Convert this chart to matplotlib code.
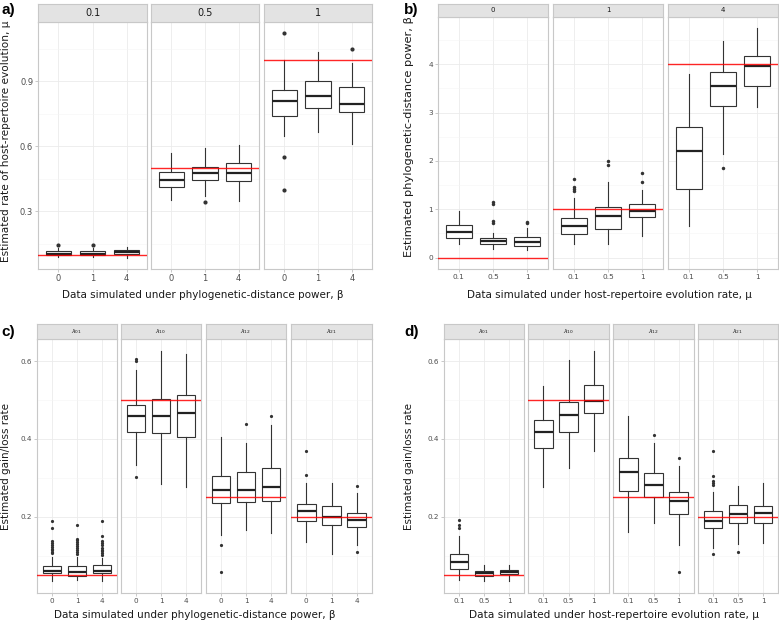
import matplotlib
matplotlib.use("Agg")
import matplotlib.pyplot as plt
import numpy as np

# ---- panel a: estimated mu, facets = true mu, groups = true beta ----
a_facets = ["0.1", "0.5", "1"]
a_groups = ["0", "1", "4"]
a_true = [0.1, 0.5, 1.0]
a_med = [[0.103, 0.103, 0.110], [0.442, 0.475, 0.475], [0.808, 0.832, 0.795]]
a_q1 = [[0.096, 0.096, 0.103], [0.412, 0.442, 0.440], [0.738, 0.775, 0.757]]
a_q3 = [[0.114, 0.114, 0.123], [0.483, 0.503, 0.523], [0.860, 0.902, 0.874]]
a_lo = [[0.088, 0.088, 0.085], [0.354, 0.372, 0.349], [0.649, 0.665, 0.611]]
a_hi = [[0.131, 0.131, 0.137], [0.568, 0.592, 0.608], [0.998, 1.034, 0.985]]
a_out = [[[0.146], [0.146], []],
         [[], [0.342], []],
         [[1.122, 0.551, 0.400], [], [1.049]]]

# ---- panel b: estimated beta, facets = true beta, groups = true mu ----
b_facets = ["0", "1", "4"]
b_groups = ["0.1", "0.5", "1"]
b_true = [0.0, 1.0, 4.0]
b_med = [[0.52, 0.35, 0.33], [0.66, 0.86, 0.96], [2.20, 3.54, 3.96]]
b_q1 = [[0.40, 0.27, 0.23], [0.49, 0.60, 0.84], [1.41, 3.14, 3.55]]
b_q3 = [[0.67, 0.41, 0.43], [0.82, 1.04, 1.10], [2.71, 3.84, 4.16]]
b_lo = [[0.28, 0.18, 0.16], [0.28, 0.27, 0.44], [0.66, 2.14, 3.11]]
b_hi = [[0.97, 0.51, 0.62], [1.24, 1.56, 1.39], [3.79, 4.49, 4.74]]
b_out = [[[], [1.15, 1.10, 0.76, 0.72], [0.73, 0.71]],
         [[1.63, 1.46, 1.42, 1.38], [2.00, 1.91], [1.74, 1.57]],
         [[], [1.86], []]]

# ---- panel c: gain/loss rates vs true beta ----
rate_facets = [r"$\lambda_{01}$", r"$\lambda_{10}$", r"$\lambda_{12}$", r"$\lambda_{21}$"]
rate_true = [0.05, 0.5, 0.25, 0.2]
c_groups = ["0", "1", "4"]
c_med = [[0.061, 0.058, 0.062], [0.458, 0.460, 0.467], [0.269, 0.269, 0.277], [0.214, 0.200, 0.193]]
c_q1 = [[0.055, 0.049, 0.056], [0.418, 0.415, 0.405], [0.236, 0.237, 0.241], [0.189, 0.178, 0.173]]
c_q3 = [[0.073, 0.073, 0.075], [0.486, 0.503, 0.512], [0.306, 0.316, 0.326], [0.234, 0.228, 0.211]]
c_lo = [[0.034, 0.039, 0.036], [0.333, 0.284, 0.277], [0.153, 0.166, 0.159], [0.135, 0.105, 0.127]]
c_hi = [[0.097, 0.098, 0.095], [0.578, 0.627, 0.619], [0.405, 0.389, 0.436], [0.286, 0.288, 0.260]]
c_out = [[[0.189, 0.171, 0.139, 0.132, 0.127, 0.122, 0.118, 0.114, 0.110, 0.106],
          [0.178, 0.144, 0.140, 0.135, 0.130, 0.125, 0.120, 0.115, 0.110, 0.105],
          [0.190, 0.150, 0.139, 0.133, 0.127, 0.121, 0.116, 0.111, 0.106, 0.102]],
         [[0.605, 0.601, 0.303], [], []],
         [[0.127, 0.058], [0.438], [0.458]],
         [[0.369, 0.307], [], [0.280, 0.109]]]

# ---- panel d: gain/loss rates vs true mu ----
d_groups = ["0.1", "0.5", "1"]
d_med = [[0.084, 0.055, 0.058], [0.417, 0.462, 0.497], [0.314, 0.281, 0.241], [0.190, 0.207, 0.210]]
d_q1 = [[0.067, 0.048, 0.052], [0.376, 0.417, 0.467], [0.266, 0.250, 0.208], [0.172, 0.185, 0.185]]
d_q3 = [[0.105, 0.062, 0.063], [0.449, 0.495, 0.538], [0.350, 0.312, 0.263], [0.215, 0.230, 0.228]]
d_lo = [[0.038, 0.034, 0.034], [0.277, 0.326, 0.368], [0.161, 0.185, 0.127], [0.121, 0.131, 0.133]]
d_hi = [[0.150, 0.075, 0.076], [0.537, 0.602, 0.627], [0.458, 0.389, 0.330], [0.265, 0.279, 0.286]]
d_out = [[[0.191, 0.180, 0.172], [], []],
         [[], [], []],
         [[], [0.409], [0.350, 0.059]],
         [[0.369, 0.306, 0.291, 0.286, 0.281, 0.105], [0.110], []]]

W, H = 779, 622
fig = plt.figure(figsize=(W / 100, H / 100), dpi=100)
plt.rcParams['font.family'] = ['DejaVu Sans']

DARK = '#333333'
BORDER = '#c8c8c8'


def px_axes(x0, y0, x1, y1):
    # pixel box (top-left origin) -> figure axes
    return fig.add_axes([x0 / W, 1 - y1 / H, (x1 - x0) / W, (y1 - y0) / H])


def draw_panel(facet_x, top, bottom, strip_h, facets, groups, true_vals,
               med, q1, q3, lo, hi, out, yticks, yminor,
               tick_fs, strip_fs, ms):
    vals = [v for row in lo for v in row] + [v for row in hi for v in row] + list(true_vals)
    vals += [v for f in out for g in f for v in g]
    ymin, ymax = min(vals), max(vals)
    pad = 0.05 * (ymax - ymin)
    for k, (x0, x1) in enumerate(facet_x):
        ax = px_axes(x0, top, x1, bottom)
        stats = []
        for i in range(len(groups)):
            stats.append(dict(med=med[k][i], q1=q1[k][i], q3=q3[k][i],
                              whislo=lo[k][i], whishi=hi[k][i], fliers=out[k][i]))
        ax.bxp(stats, positions=[1, 2, 3], widths=0.75, patch_artist=True,
               showcaps=False,
               boxprops=dict(facecolor='white', edgecolor=DARK, linewidth=0.8),
               medianprops=dict(color='#222222', linewidth=1.6),
               whiskerprops=dict(color=DARK, linewidth=0.8),
               flierprops=dict(marker='o', markersize=ms, markerfacecolor=DARK,
                               markeredgecolor='none'))
        ax.axhline(true_vals[k], color='red', lw=1.0, alpha=0.85, zorder=5)
        ax.set_xlim(0.4, 3.6)
        ax.set_ylim(ymin - pad, ymax + pad)
        ax.set_xticks([1, 2, 3])
        ax.set_xticklabels(groups)
        ax.set_yticks(yticks)
        ax.set_yticks(yminor, minor=True)
        ax.set_yticklabels([f"{t:g}" for t in yticks])
        ax.grid(True, which='major', color='#ebebeb', lw=0.6)
        ax.grid(True, which='minor', axis='y', color='#f5f5f5', lw=0.4)
        ax.set_axisbelow(True)
        ax.tick_params(which='major', length=2, width=0.5, color='#b3b3b3',
                       labelsize=tick_fs, labelcolor='#4d4d4d', pad=1.5)
        ax.tick_params(which='minor', length=0)
        if k > 0:
            ax.tick_params(axis='y', left=False, labelleft=False)
        for s in ax.spines.values():
            s.set_color(BORDER)
            s.set_linewidth(0.8)
        sax = px_axes(x0, top - strip_h, x1, top)
        sax.set_facecolor('#e3e3e3')
        sax.set_xticks([])
        sax.set_yticks([])
        for s in sax.spines.values():
            s.set_color(BORDER)
            s.set_linewidth(0.8)
        sax.text(0.5, 0.5, facets[k], ha='center', va='center',
                 fontsize=strip_fs, color='#1a1a1a', transform=sax.transAxes)


draw_panel([(38, 147), (151, 259), (264, 372)], 22, 269, 18,
           a_facets, a_groups, a_true, a_med, a_q1, a_q3, a_lo, a_hi, a_out,
           [0.3, 0.6, 0.9], [0.15, 0.45, 0.75, 1.05], 6, 7, 3.0)
draw_panel([(438, 548), (553, 663), (668, 778)], 17, 269, 13,
           b_facets, b_groups, b_true, b_med, b_q1, b_q3, b_lo, b_hi, b_out,
           [0, 1, 2, 3, 4], [0.5, 1.5, 2.5, 3.5, 4.5], 5.3, 5, 2.5)
draw_panel([(37, 117), (121, 201), (206, 286), (291, 372)], 339, 593, 15,
           rate_facets, c_groups, rate_true, c_med, c_q1, c_q3, c_lo, c_hi, c_out,
           [0.2, 0.4, 0.6], [0.1, 0.3, 0.5], 5.2, 4.5, 2.3)
draw_panel([(444, 524), (528, 609), (613, 694), (698, 778)], 339, 593, 15,
           rate_facets, d_groups, rate_true, d_med, d_q1, d_q3, d_lo, d_hi, d_out,
           [0.2, 0.4, 0.6], [0.1, 0.3, 0.5], 5.2, 4.5, 2.3)


def ftext(x, y, s, color='#1a1a1a', **kw):
    fig.text(x / W, 1 - y / H, s, ha='center', va='center', color=color, **kw)


ftext(203, 295, "Data simulated under phylogenetic-distance power, β", fontsize=7.5)
ftext(609, 295, "Data simulated under host-repertoire evolution rate, μ", fontsize=7.5)
ftext(195, 615, "Data simulated under phylogenetic-distance power, β", fontsize=7.5)
ftext(614, 615, "Data simulated under host-repertoire evolution rate, μ", fontsize=7.6)

ftext(6, 141, "Estimated rate of host-repertoire evolution, μ", fontsize=7.6, rotation=90)
ftext(409, 137, "Estimated phylogenetic-distance power, β", fontsize=8.2, rotation=90)
ftext(6, 466, "Estimated gain/loss rate", fontsize=7.5, rotation=90)
ftext(409, 466, "Estimated gain/loss rate", fontsize=7.5, rotation=90)

for x, y, s in [(8, 10, "a)"), (411, 10, "b)"), (8, 332, "c)"), (412, 332, "d)")]:
    ftext(x, y, s, color='black', fontsize=11, fontweight='bold', family='Liberation Sans')

fig.savefig("out.png", dpi=100)
